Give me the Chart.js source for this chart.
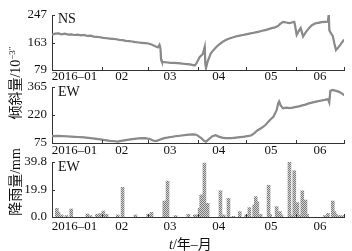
<!DOCTYPE html>
<html lang="zh-CN">
<head>
<meta charset="UTF-8">
<title>倾斜量与降雨量</title>
<script src="https://cdn.jsdelivr.net/npm/chart.js@4"></script>
<style>
  body { margin: 0; background: #fff; }
  #wrap { position: relative; width: 352px; height: 251px; overflow: hidden; font-family: "Liberation Serif", serif; color: #111; }
  #wrap canvas { position: absolute; left: 0; top: 0; }
  .lab { position: absolute; font-size: 14px; line-height: 14px; }
  .cjk { font-family: "Noto Sans CJK SC", sans-serif; }
  .ytitle { position: absolute; font-size: 14px; line-height: 14px; white-space: nowrap; transform: translate(-50%, -50%) rotate(-90deg); }
  .ytitle sup { font-size: 9px; vertical-align: 5px; line-height: 0; }
</style>
</head>
<body>
<div id="wrap">
  <canvas id="c1" width="352" height="251"></canvas>
  <canvas id="c2" width="352" height="251"></canvas>
  <canvas id="c3" width="352" height="251"></canvas>
  <div class="lab" style="left:58px;top:12px">NS</div>
  <div class="lab" style="left:58px;top:85px">EW</div>
  <div class="lab" style="left:58px;top:160px">EW</div>
  <div class="ytitle" style="left:15px;top:83px"><span class="cjk">倾斜量</span>/10<sup>−3″</sup></div>
  <div class="ytitle" style="left:15px;top:182px"><span class="cjk">降雨量</span>/mm</div>
  <div class="lab" style="left:169px;top:236px"><i>t</i>/<span class="cjk">年</span>–<span class="cjk">月</span></div>
</div>

<script>
  // x in days since 2016-01-01
  const monthLabels = ['2016–01', '02', '03', '04', '05', '06'];
  const monthCenters = [14, 43.5, 73.5, 104, 136.5, 167];
  const monthEdges = [31, 60, 91, 121, 152, 182];

  const nsTicks = [79, 163, 247];
  const ewTicks = [75, 220, 365];
  const rainTicks = [0, 19.9, 39.8];
  const rainTickLabels = ['0.0', '19.9', '39.8'];

  // NS tilt
  const nsDays = [0, 2, 4, 6, 8, 10, 12, 14, 16, 18, 20, 22, 24, 26, 28, 30, 32, 34, 36, 38, 40, 42, 44, 46, 48, 50,
    52, 54, 56, 58, 60, 62, 64, 66, 67, 67.6, 68, 68.5, 70, 72, 74, 76, 78, 80, 82, 84, 86, 88, 89, 90, 92, 94, 95.2,
    95.6, 96, 97, 99, 101, 103, 105, 107, 109, 111, 113, 115, 117, 119, 121, 123, 125, 127, 129, 131, 133, 135, 137,
    139, 141, 142, 144, 146, 148, 150, 151, 151.5, 152.5, 154, 155, 156, 156.5, 158, 160, 162, 164, 166, 168, 170,
    172, 172.5, 172.9, 174, 175, 176, 177, 178, 180, 182];
  const nsVals = [187, 190, 191, 188, 190, 187, 188, 186, 187, 185, 186, 183, 184, 181, 180, 179, 177, 176, 175, 174,
    173, 171, 170, 168, 167, 166, 164, 163, 162, 161, 160, 157, 152, 148, 156, 145, 110, 104, 103, 102, 101, 101, 100,
    99, 98, 97, 96, 94, 93, 99, 118, 128, 150, 96, 85, 105, 130, 142, 152, 160, 167, 172, 176, 179, 182, 184, 186, 188,
    190, 192, 194, 196, 199, 201, 204, 207, 209, 214, 219, 226, 224, 222, 225, 226, 215, 186, 200, 207, 190, 181, 193,
    206, 216, 221, 223, 225, 226, 227, 250, 200, 190, 183, 160, 140, 145, 158, 172];

  // EW tilt
  const ewDays = [0, 4, 8, 12, 16, 20, 24, 28, 30, 33, 36, 39, 41, 43, 46, 50, 54, 58, 61, 63, 65, 67, 70, 74, 77, 81,
    85, 88, 90, 91, 93, 95, 96, 98, 100, 102, 104, 106, 108, 112, 116, 120, 124, 126, 128, 131, 133, 136, 138, 140,
    141, 141.6, 142.5, 144, 146, 148, 150, 152, 154, 156, 158, 160, 162, 164, 166, 168, 170, 172, 172.8, 173.5, 175,
    177, 179, 181, 182];
  const ewVals = [111, 112, 110, 108, 106, 104, 100, 96, 94, 90, 86, 84, 82, 86, 90, 95, 99, 100, 96, 88, 85, 92, 100,
    106, 110, 114, 118, 120, 118, 112, 100, 85, 82, 96, 110, 115, 108, 103, 100, 100, 104, 108, 114, 125, 140, 155,
    168, 195, 211, 245, 281, 290, 270, 255, 258, 256, 258, 262, 265, 270, 274, 280, 284, 288, 292, 295, 298, 302, 285,
    345, 350, 345, 340, 330, 322];

  // rainfall
  const rainDays = [3, 4, 6, 9, 12, 22, 24, 28, 30, 32, 34, 41, 44, 52, 60, 62, 70, 72, 77, 85, 89, 90, 92, 93, 94, 95,
    97, 105, 107, 110, 113, 117, 121, 123, 126, 127, 128, 130, 135, 136, 140, 142, 143, 148, 149, 151, 153, 155, 156,
    158, 159, 170, 172, 175, 176, 177, 178, 180, 182];
  const rainVals = [6.3, 3.5, 1.5, 1, 5.8, 2.2, 1, 2, 2.5, 4.3, 2, 1.5, 21.5, 1.5, 2, 3.4, 11.6, 26, 1, 2, 1.5, 1.5,
    6.3, 16, 14.7, 39, 9.9, 19, 1.5, 13.5, 0.5, 3.9, 1.5, 6.8, 8.7, 14.7, 11, 2, 23, 2, 7.5, 3.9, 1.5, 39.8, 1, 33.5,
    10.4, 1.5, 19, 12.3, 2, 1, 2.6, 11.6, 3.9, 2, 1, 1, 1];

  const pts = (xs, ys) => xs.map((x, i) => ({ x: x, y: ys[i] }));
  const tickFont = { family: 'Liberation Serif', size: 13, lineHeight: 1 };

  const innerTicks = {
    id: 'innerTicks',
    afterDraw(chart, args, opts) {
      const { ctx, chartArea: a, scales } = chart;
      ctx.save();
      ctx.strokeStyle = '#333';
      ctx.lineWidth = 1;
      ctx.beginPath();
      opts.yTicks.forEach(v => {
        const py = Math.round(scales.y.getPixelForValue(v)) + 0.5;
        ctx.moveTo(a.left, py);
        ctx.lineTo(a.left + 3, py);
      });
      monthEdges.forEach(d => {
        const px = Math.round(scales.x.getPixelForValue(d)) + 0.5;
        ctx.moveTo(px, a.bottom);
        ctx.lineTo(px, a.bottom - 3);
      });
      ctx.stroke();
      ctx.restore();
    }
  };

  function makeChart(id, type, datasets, yTicks, yLabels, padTop, bottomEdge, xPad) {
    const xh = 18;
    return new Chart(document.getElementById(id), {
      type: type,
      data: { datasets: datasets },
      plugins: [innerTicks],
      options: {
        responsive: false,
        animation: false,
        devicePixelRatio: 1,
        layout: { padding: { top: padTop, bottom: 251 - bottomEdge - xh, left: 0, right: 8 } },
        plugins: { legend: { display: false }, tooltip: { enabled: false }, innerTicks: { yTicks: yTicks } },
        scales: {
          x: {
            type: 'linear', min: 0, max: 182, offset: false,
            grid: { display: false, drawTicks: false, offset: false },
            border: { display: true, color: '#333', width: 1 },
            afterFit: s => { s.height = xh; },
            afterBuildTicks: s => { s.ticks = monthCenters.map(v => ({ value: v })); },
            ticks: {
              autoSkip: false, maxRotation: 0, padding: xPad, color: '#111', font: tickFont,
              callback: (v, i) => monthLabels[i]
            }
          },
          y: {
            min: yTicks[0], max: yTicks[2],
            grid: { display: false, drawTicks: false },
            border: { display: true, color: '#333', width: 1 },
            afterFit: s => { s.width = 52; },
            afterBuildTicks: s => { s.ticks = yTicks.map(v => ({ value: v })); },
            ticks: {
              padding: 5, color: '#111', font: tickFont,
              callback: (v, i) => yLabels[i]
            }
          }
        }
      }
    });
  }

  function tiltSets(xs, ys) {
    return [
      { data: pts(xs, ys), borderColor: '#8a8a8a', borderWidth: 2.2, pointRadius: 0, tension: 0 },
      { data: pts(xs, ys), borderColor: '#1a1a1a', borderWidth: 1, pointRadius: 0, tension: 0 }
    ];
  }

  makeChart('c1', 'line', tiltSets(nsDays, nsVals), nsTicks, nsTicks.map(String), 15, 70, 0.5);
  makeChart('c2', 'line', tiltSets(ewDays, ewVals), ewTicks, ewTicks.map(String), 87, 143, 1);

  // dotted fill for rain bars
  const tile = document.createElement('canvas');
  tile.width = 2; tile.height = 2;
  const tg = tile.getContext('2d');
  tg.fillStyle = '#d4d4d4'; tg.fillRect(0, 0, 2, 2);
  tg.fillStyle = '#7a7a7a'; tg.fillRect(0, 0, 1, 1); tg.fillRect(1, 1, 1, 1);
  const dots = document.getElementById('c3').getContext('2d').createPattern(tile, 'repeat');

  makeChart('c3', 'bar', [{
    data: pts(rainDays, rainVals),
    backgroundColor: dots,
    borderColor: '#777',
    borderWidth: 0,
    barThickness: 3
  }], rainTicks, rainTickLabels, 162, 217, 3);
</script>
</body>
</html>
